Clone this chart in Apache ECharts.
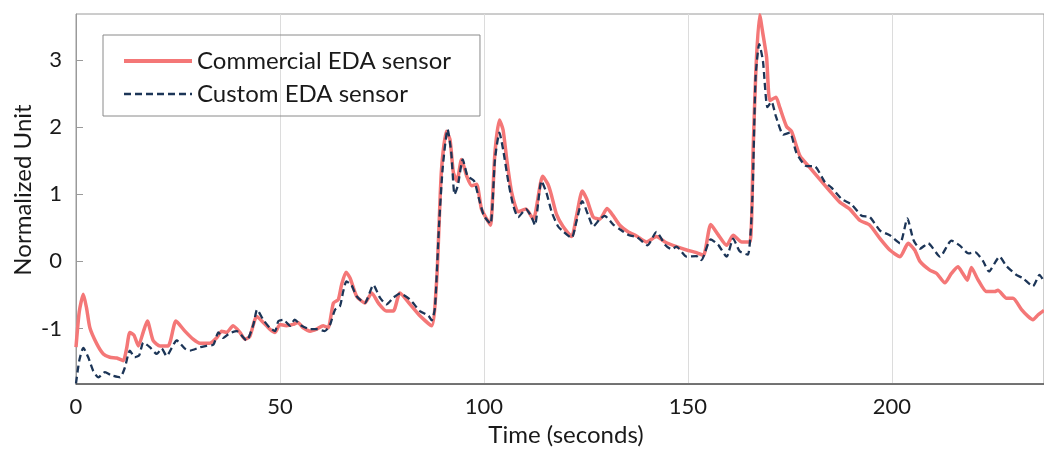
<!DOCTYPE html>
<html>
<head>
<meta charset="utf-8">
<script src="https://cdn.jsdelivr.net/npm/echarts@6/dist/echarts.min.js"></script>
<style>
  html, body { margin: 0; padding: 0; background: #fff; }
  #chart { width: 1044px; height: 452px; }
</style>
</head>
<body>
<div id="chart"></div>
<script>
// commercial sensor (red, solid)
const commercialTime = [0, 0.8, 1.8, 2.6, 3.4, 5.1, 6.7, 8.3, 10, 11.6, 12.4, 13.2, 14.2, 15.3, 16.5, 17.5, 18.9, 20.6, 22.6, 24.5,
  26.7, 28.7, 30.4, 32.8, 34.5, 35.7, 36.9, 38.5, 40.2, 41.4, 42.6, 44.3, 45.9, 47.5, 48.8, 50, 51.6, 53.2, 54.4, 55.7,
  57.4, 59, 60.6, 61.8, 63.1, 64.3, 65.1, 66.2, 67.2, 68.8, 70.8, 72.5, 74.1, 76.1, 77.8, 79.4, 81.9, 84.3, 87.2, 88.4,
  89, 89.6, 90.8, 91.7, 92.5, 93.4, 94.5, 95.8, 97, 98.2, 99.4, 100.7, 101.6, 102.7, 103.8, 104.7, 105.6, 106.8, 108.4, 110.3,
  112.1, 114.4, 115.7, 116.5, 117.8, 119.4, 121.5, 122.7, 124.1, 125.2, 126.8, 128.4, 130.2, 131.7, 133.3, 135.4, 137.4, 139.9, 142.3, 144.4,
  147.2, 149.7, 152.1, 153.8, 155.6, 157.4, 159.5, 161.1, 163.2, 165.2, 166, 166.7, 167.6, 168.4, 169.3, 170.1, 171.6, 172.5, 174.2, 175.4,
  177.5, 179.9, 182.4, 184.8, 187.3, 189.7, 192.2, 194.6, 197.1, 199.5, 202, 204, 205.6, 206.9, 209.3, 211, 213, 214.6, 216.2, 217.4,
  218.5, 219.5, 221, 223.2, 225.2, 226, 228.1, 229.7, 231.8, 233.4, 234.6, 235.8, 237.3];
const commercialValue = [-1.28, -0.75, -0.49, -0.7, -0.99, -1.23, -1.38, -1.43, -1.44, -1.48, -1.3, -1.06, -1.1, -1.26, -1.05, -0.89, -1.18, -1.26, -1.26, -0.89,
  -1.04, -1.16, -1.22, -1.22, -1.14, -1.04, -1.06, -0.96, -1.06, -1.16, -1.12, -0.82, -0.91, -1.01, -1.06, -0.94, -0.96, -0.94, -0.91, -0.99,
  -1.04, -1.01, -0.96, -0.99, -0.62, -0.57, -0.35, -0.16, -0.25, -0.52, -0.62, -0.47, -0.62, -0.74, -0.74, -0.47, -0.64, -0.81, -0.96, -0.3,
  0.54, 1.37, 1.94, 1.81, 1.33, 1.2, 1.52, 1.27, 1.13, 1.15, 0.78, 0.63, 0.54, 1.62, 2.11, 1.96, 1.52, 1.03, 0.74, 0.78,
  0.63, 1.27, 1.15, 1.0, 0.7, 0.52, 0.37, 0.68, 1.05, 0.93, 0.66, 0.63, 0.79, 0.68, 0.54, 0.44, 0.38, 0.29, 0.37, 0.29,
  0.22, 0.17, 0.13, 0.09, 0.55, 0.4, 0.24, 0.39, 0.29, 0.29, 1.67, 2.9, 3.68, 3.39, 3.04, 2.4, 2.45, 2.3, 2.01, 1.94,
  1.57, 1.4, 1.22, 1.05, 0.88, 0.78, 0.61, 0.54, 0.34, 0.17, 0.07, 0.27, 0.17, 0, -0.13, -0.18, -0.32, -0.18, -0.08, -0.18,
  -0.28, -0.09, -0.26, -0.45, -0.45, -0.43, -0.55, -0.55, -0.72, -0.82, -0.87, -0.8, -0.73];

// custom sensor (navy, dashed)
const customTime = [0, 0.8, 1.8, 3, 4.2, 5.5, 7.1, 8.7, 10.8, 12, 13.2, 14.4, 15.5, 16.5, 18.1, 19.8, 21, 22.2, 24.7, 26.7,
  27.9, 30.4, 32, 33.7, 34.9, 36.1, 37.7, 39.4, 41.8, 43.5, 44.4, 45.9, 47.5, 48.8, 49.6, 50.8, 52.5, 53.6, 55.3, 57.4,
  59, 61, 62.3, 63.5, 64.7, 65.5, 66.3, 67.5, 68.8, 70.8, 72.9, 74.5, 76.1, 77.8, 79.4, 81.9, 84.3, 86.4, 87.2, 88,
  89, 89.9, 91.1, 92, 92.8, 93.6, 94.8, 96, 97.6, 98.8, 100, 101.6, 102.7, 103.8, 104.7, 106, 107.2, 108.4, 110.3, 111.7,
  112.5, 114.1, 115.3, 116.6, 118.2, 119.4, 121.5, 122.7, 124.1, 125.5, 126.8, 128.4, 129.6, 131.7, 133.3, 135.6, 137.6, 140.1, 142.3, 144.4,
  146, 147.2, 149.7, 152.1, 153.3, 155.6, 157.4, 159.5, 161.1, 162.7, 164.7, 165.8, 166.6, 167.5, 168.4, 169.5, 170.5, 171.6, 173.4, 175,
  176.6, 179.1, 181, 183.6, 185.2, 187.7, 190.1, 192.6, 194.6, 197.1, 199.5, 202, 203.8, 205.3, 206.9, 208.9, 211.8, 214.6, 216.6, 218.8,
  220.4, 222.4, 223.8, 226.4, 228.1, 230.5, 232.1, 234.6, 236.2, 237.3];
const customValue = [-1.82, -1.48, -1.29, -1.43, -1.63, -1.73, -1.65, -1.7, -1.73, -1.58, -1.33, -1.43, -1.4, -1.21, -1.28, -1.38, -1.3, -1.41, -1.18, -1.3,
  -1.33, -1.28, -1.26, -1.24, -1.06, -1.14, -1.07, -1.04, -1.18, -0.94, -0.72, -0.87, -0.99, -1.04, -0.89, -0.87, -0.96, -0.87, -0.96, -1.01,
  -1.01, -1.04, -0.94, -0.72, -0.67, -0.45, -0.3, -0.35, -0.52, -0.62, -0.35, -0.54, -0.64, -0.54, -0.48, -0.57, -0.74, -0.81, -0.88, -0.69,
  0.54, 1.4, 1.97, 1.62, 1.0, 1.13, 1.52, 1.27, 1.2, 0.93, 0.68, 0.56, 1.52, 1.92, 1.67, 1.18, 0.83, 0.66, 0.78, 0.66,
  0.54, 1.2, 1.03, 0.74, 0.52, 0.45, 0.35, 0.6, 0.9, 0.7, 0.52, 0.63, 0.68, 0.55, 0.48, 0.39, 0.36, 0.24, 0.44, 0.25,
  0.18, 0.22, 0.07, 0.08, 0.02, 0.33, 0.25, 0.07, 0.34, 0.15, 0.1, 0.93, 2.75, 3.24, 2.99, 2.3, 2.38, 2.16, 1.89, 1.92,
  1.62, 1.42, 1.42, 1.18, 1.1, 0.93, 0.85, 0.68, 0.66, 0.46, 0.39, 0.27, 0.64, 0.32, 0.19, 0.27, 0.07, 0.31, 0.24, 0.12,
  0.14, 0, -0.15, 0.07, -0.07, -0.2, -0.25, -0.37, -0.2, -0.3];

const xMin = 0, xMax = 237.3, xStep = 50;
const yMin = -1.83, yMax = 3.69;

const pairs = (ts, vs) => ts.map((t, i) => [t, vs[i]]);
const font = 'Lato, "Open Sans", sans-serif';

const myChart = echarts.init(document.getElementById('chart'));
const option = {
  animation: false,
  grid: {
    left: 76, right: -2, top: 14, bottom: 64,
    show: true, borderColor: '#9a9a9a', borderWidth: 1
  },
  legend: {
    orient: 'vertical',
    left: 103, top: 35,
    padding: [14, 29, 10, 19],
    itemGap: 9,
    itemWidth: 68, itemHeight: 14,
    borderColor: '#8a8a8a', borderWidth: 1,
    itemStyle: { opacity: 0 },
    textStyle: { fontFamily: font, fontSize: 24, color: '#1a1a1a' },
    data: [
      { name: 'Commercial EDA sensor', lineStyle: { width: 4 } },
      { name: 'Custom EDA sensor', lineStyle: { width: 2.3 } }
    ]
  },
  graphic: [{
    type: 'text',
    x: 23, y: 190, rotation: Math.PI / 2,
    style: {
      text: 'Normalized Unit', fontFamily: font, fontSize: 24, fill: '#1a1a1a',
      align: 'center', verticalAlign: 'middle'
    }
  }],
  xAxis: {
    type: 'value',
    min: xMin, max: xMax, interval: xStep,
    name: 'Time (seconds)', nameLocation: 'middle', nameGap: 38,
    nameTextStyle: { fontFamily: font, fontSize: 24, color: '#1a1a1a', padding: [0, 0, 0, 12] },
    axisLine: { onZero: false, lineStyle: { color: '#555', width: 1.5 } },
    axisTick: { show: false },
    axisLabel: { fontFamily: font, fontSize: 22, color: '#1a1a1a', margin: 12, showMaxLabel: false },
    splitLine: { show: true, showMinLine: false, showMaxLine: false, lineStyle: { color: '#dcdcdc', width: 1 } }
  },
  yAxis: {
    type: 'value',
    min: yMin, max: yMax, splitNumber: 5,
    axisLine: { show: true, onZero: false, lineStyle: { color: '#9a9a9a', width: 1 } },
    axisTick: { show: true, inside: true, length: 7, lineStyle: { color: '#9a9a9a' } },
    axisLabel: { fontFamily: font, fontSize: 22, color: '#1a1a1a', margin: 14, showMinLabel: false, showMaxLabel: false },
    splitLine: { show: false }
  },
  series: [
    {
      name: 'Commercial EDA sensor',
      type: 'line',
      data: pairs(commercialTime, commercialValue),
      symbol: 'none',
      smooth: 0.2,
      lineStyle: { color: '#f47777', width: 3.5 },
      itemStyle: { color: '#f47777' },
      z: 2
    },
    {
      name: 'Custom EDA sensor',
      type: 'line',
      data: pairs(customTime, customValue),
      symbol: 'none',
      smooth: 0.2,
      lineStyle: { color: '#1c3557', width: 2.3, type: [7, 4] },
      itemStyle: { color: '#1c3557' },
      z: 3
    }
  ]
};
option && myChart.setOption(option);
</script>
</body>
</html>
